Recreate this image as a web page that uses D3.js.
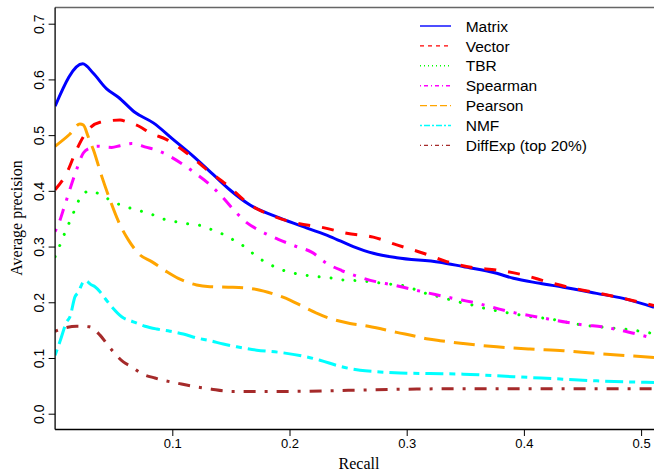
<!DOCTYPE html>
<html>
<head>
<meta charset="utf-8">
<script src="https://cdn.jsdelivr.net/npm/d3@7"></script>
<style>
  html, body { margin: 0; padding: 0; background: #fff; }
  svg { display: block; }
</style>
</head>
<body>
<svg id="chart" width="654" height="472"></svg>
<script>
// ---------------- DATA ----------------
const seriesNames = ["Matrix", "Vector", "TBR", "Spearman", "Pearson", "NMF", "DiffExp (top 20%)"];

const matrixRecall = [0, 0.0236, 0.0326, 0.044, 0.054, 0.068, 0.0838, 0.1009, 0.118, 0.135, 0.149, 0.166, 0.192, 0.215, 0.2346, 0.2544, 0.2715, 0.2915, 0.3284, 0.348, 0.3768, 0.391, 0.4137, 0.4336, 0.462, 0.4848, 0.511];
const matrixPrec   = [0.552, 0.628, 0.611, 0.583, 0.568, 0.541, 0.522, 0.492, 0.462, 0.429, 0.402, 0.375, 0.351, 0.333, 0.318, 0.300, 0.288, 0.280, 0.272, 0.264, 0.252, 0.243, 0.234, 0.227, 0.216, 0.207, 0.191];

const vectorRecall = [0, 0.0099, 0.0184, 0.0241, 0.0298, 0.0383, 0.0554, 0.0611, 0.0724, 0.081, 0.0952, 0.1123, 0.1294, 0.1464, 0.1663, 0.1834, 0.2061, 0.2288, 0.2488, 0.2715, 0.2915, 0.3142, 0.3341, 0.3568, 0.3768, 0.3995, 0.4195, 0.4421, 0.4621, 0.4848, 0.511];
const vectorPrec   = [0.402, 0.432, 0.474, 0.497, 0.513, 0.523, 0.527, 0.524, 0.515, 0.504, 0.492, 0.468, 0.438, 0.411, 0.375, 0.357, 0.342, 0.334, 0.324, 0.317, 0.303, 0.288, 0.273, 0.262, 0.258, 0.249, 0.237, 0.225, 0.217, 0.207, 0.194];

const tbrRecall = [0, 0.0042, 0.0084, 0.0127, 0.017, 0.0218, 0.0298, 0.0398, 0.0497, 0.0596, 0.0705, 0.081, 0.0915, 0.1017, 0.1128, 0.1236, 0.1341, 0.1444, 0.1544, 0.1635, 0.172, 0.1814, 0.1913, 0.2019, 0.2126, 0.2237, 0.2346, 0.2459, 0.2567, 0.2681, 0.2792, 0.3009, 0.3113, 0.3218, 0.3327, 0.3432, 0.354, 0.3648, 0.3759, 0.3867, 0.3975, 0.4086, 0.4195, 0.4302, 0.4416, 0.4743, 0.4854, 0.4962, 0.5076, 0.511];
const tbrPrec   = [0.282, 0.303, 0.325, 0.346, 0.367, 0.389, 0.400, 0.392, 0.380, 0.372, 0.365, 0.359, 0.350, 0.345, 0.341, 0.338, 0.330, 0.321, 0.309, 0.297, 0.282, 0.270, 0.260, 0.253, 0.249, 0.246, 0.244, 0.240, 0.239, 0.237, 0.234, 0.228, 0.219, 0.213, 0.207, 0.201, 0.196, 0.190, 0.185, 0.181, 0.177, 0.173, 0.171, 0.167, 0.162, 0.154, 0.152, 0.149, 0.145, 0.144];

const spearmanRecall = [0, 0.0027, 0.0084, 0.0178, 0.0241, 0.0298, 0.036, 0.0483, 0.0554, 0.0654, 0.0782, 0.0852, 0.0952, 0.1094, 0.1194, 0.1322, 0.1422, 0.155, 0.1635, 0.1734, 0.1904, 0.2047, 0.2189, 0.2317, 0.2445, 0.2573, 0.2736, 0.2886, 0.3028, 0.3199, 0.3327, 0.3469, 0.3625, 0.3768, 0.3924, 0.4052, 0.4208, 0.4365, 0.4521, 0.4664, 0.482, 0.4962, 0.511];
const spearmanPrec   = [0.327, 0.339, 0.375, 0.435, 0.468, 0.477, 0.480, 0.478, 0.481, 0.485, 0.478, 0.474, 0.465, 0.447, 0.432, 0.411, 0.390, 0.360, 0.343, 0.330, 0.313, 0.301, 0.290, 0.270, 0.257, 0.247, 0.237, 0.231, 0.224, 0.216, 0.210, 0.204, 0.197, 0.189, 0.181, 0.176, 0.170, 0.164, 0.159, 0.156, 0.150, 0.143, 0.135];

const pearsonRecall = [0, 0.0127, 0.0212, 0.0241, 0.0283, 0.0326, 0.0398, 0.0468, 0.0554, 0.0625, 0.0724, 0.0824, 0.0952, 0.1051, 0.1208, 0.1322, 0.1478, 0.1606, 0.172, 0.1862, 0.2004, 0.2118, 0.2246, 0.236, 0.2516, 0.2644, 0.2787, 0.2915, 0.3056, 0.3184, 0.3284, 0.3483, 0.3768, 0.4052, 0.4336, 0.4621, 0.4905, 0.511];
const pearsonPrec   = [0.480, 0.502, 0.520, 0.518, 0.497, 0.474, 0.426, 0.384, 0.339, 0.312, 0.285, 0.273, 0.255, 0.243, 0.231, 0.228, 0.227, 0.226, 0.223, 0.215, 0.204, 0.192, 0.179, 0.170, 0.162, 0.158, 0.152, 0.146, 0.140, 0.134, 0.131, 0.126, 0.120, 0.116, 0.113, 0.108, 0.104, 0.101];

const nmfRecall = [0, 0.0042, 0.0099, 0.0127, 0.017, 0.0198, 0.0241, 0.0255, 0.0312, 0.034, 0.0383, 0.0426, 0.0483, 0.0568, 0.0667, 0.0767, 0.0867, 0.098, 0.1094, 0.1208, 0.1322, 0.1435, 0.155, 0.172, 0.1919, 0.2147, 0.226, 0.2431, 0.2602, 0.2772, 0.2943, 0.32, 0.3483, 0.3768, 0.4052, 0.4336, 0.4621, 0.4905, 0.511];
const nmfPrec   = [0.105, 0.130, 0.165, 0.174, 0.210, 0.218, 0.237, 0.239, 0.231, 0.228, 0.219, 0.207, 0.192, 0.174, 0.165, 0.157, 0.152, 0.148, 0.143, 0.136, 0.131, 0.125, 0.120, 0.114, 0.110, 0.102, 0.096, 0.085, 0.078, 0.075, 0.073, 0.072, 0.071, 0.068, 0.065, 0.062, 0.059, 0.057, 0.056];

const diffRecall = [0, 0.0084, 0.0184, 0.0292, 0.0383, 0.044, 0.0497, 0.0582, 0.0654, 0.0739, 0.0852, 0.0923, 0.1038, 0.1151, 0.1236, 0.1336, 0.1435, 0.152, 0.2, 0.25, 0.3, 0.35, 0.4, 0.45, 0.511];
const diffPrec   = [0.148, 0.154, 0.157, 0.156, 0.141, 0.126, 0.111, 0.093, 0.084, 0.072, 0.064, 0.060, 0.055, 0.050, 0.047, 0.044, 0.041, 0.040, 0.040, 0.042, 0.044, 0.045, 0.045, 0.045, 0.045];

const xTicks = [0.1, 0.2, 0.3, 0.4, 0.5];
const yTicks = [0.0, 0.1, 0.2, 0.3, 0.4, 0.5, 0.6, 0.7];

const colors = ["#0000FF", "#FF0000", "#00FF00", "#FF00FF", "#FFA500", "#00FFFF", "#A52A2A"];
// R line types scaled (solid, dashed, dotted, dotdash, longdash, twodash, dotdash)
const dashPlot   = [null, "12,12", "0.01,12", "3,9,12,9", "21,9", "6,6,18,6", "3,9,12,9"];
const capPlot    = ["butt", "butt", "round", "butt", "butt", "butt", "butt"];
const dashLegend = [null, "4,4", "1,3", "1,3,4,3", "7,3", "2,2,6,2", "1,3,4,3"];

const recalls = [matrixRecall, vectorRecall, tbrRecall, spearmanRecall, pearsonRecall, nmfRecall, diffRecall];
const precs   = [matrixPrec, vectorPrec, tbrPrec, spearmanPrec, pearsonPrec, nmfPrec, diffPrec];

// ---------------- CHART ----------------
const svg = d3.select("#chart");
const pLeft = 55.1, pRight = 654, pTop = 7.5, pBottom = 429.5;

const x = d3.scaleLinear().domain([0, 0.5]).range([55.1, 641.1]);
const y = d3.scaleLinear().domain([0, 0.7]).range([413.7, 23.7]);

svg.append("defs").append("clipPath").attr("id", "clip")
  .append("rect").attr("x", pLeft).attr("y", pTop).attr("width", pRight - pLeft).attr("height", pBottom - pTop);

const line = d3.line().x(d => x(d[0])).y(d => y(d[1])).curve(d3.curveMonotoneX);

const g = svg.append("g").attr("clip-path", "url(#clip)");
seriesNames.forEach((name, i) => {
  const pts = recalls[i].map((r, k) => [r, precs[i][k]]);
  const p = g.append("path")
    .datum(pts)
    .attr("d", line)
    .attr("fill", "none")
    .attr("stroke", colors[i])
    .attr("stroke-width", 3)
    .attr("stroke-linecap", capPlot[i])
    .attr("stroke-linejoin", "round");
  if (dashPlot[i]) p.attr("stroke-dasharray", dashPlot[i]);
});

// frame
svg.append("line").attr("x1", pLeft).attr("x2", pRight).attr("y1", pTop).attr("y2", pTop)
  .attr("stroke", "#666").attr("stroke-width", 1.5);
svg.append("line").attr("x1", pLeft).attr("x2", pLeft).attr("y1", pTop).attr("y2", pBottom)
  .attr("stroke", "#000").attr("stroke-width", 1.3);
svg.append("line").attr("x1", pLeft).attr("x2", pRight).attr("y1", pBottom).attr("y2", pBottom)
  .attr("stroke", "#000").attr("stroke-width", 1.3);

// y axis
const yAxis = d3.axisLeft(y).tickValues(yTicks).tickSize(6.5).tickFormat(d3.format(".1f"));
const ya = svg.append("g").attr("transform", `translate(${pLeft},0)`).call(yAxis);
ya.select(".domain").remove();
ya.selectAll(".tick line").attr("stroke", "#000").attr("stroke-width", 1);
ya.selectAll(".tick text")
  .attr("font-family", "'Liberation Sans', Arial, sans-serif")
  .attr("font-size", 14)
  .attr("fill", "#000")
  .attr("text-anchor", "middle")
  .attr("dy", null)
  .attr("x", null)
  .attr("transform", "translate(-11,0) rotate(-90)")
  .attr("y", 0);

// x axis
const xAxis = d3.axisBottom(x).tickValues(xTicks).tickSize(6.5).tickFormat(d3.format(".1f"));
const xa = svg.append("g").attr("transform", `translate(0,${pBottom})`).call(xAxis);
xa.select(".domain").remove();
xa.selectAll(".tick line").attr("stroke", "#000").attr("stroke-width", 1);
xa.selectAll(".tick text")
  .attr("font-family", "'Liberation Sans', Arial, sans-serif")
  .attr("font-size", 13)
  .attr("fill", "#000")
  .attr("dy", null)
  .attr("y", 18.3);

// axis titles
svg.append("text").attr("x", 359).attr("y", 469)
  .attr("text-anchor", "middle")
  .attr("font-family", "'Liberation Serif', 'Times New Roman', serif")
  .attr("font-size", 16).attr("fill", "#000").text("Recall");
svg.append("text")
  .attr("transform", "translate(21.5,218) rotate(-90)")
  .attr("text-anchor", "middle")
  .attr("font-family", "'Liberation Serif', 'Times New Roman', serif")
  .attr("font-size", 16).attr("fill", "#000").text("Average precision");

// legend
const lg = svg.append("g");
seriesNames.forEach((name, i) => {
  const yy = 26 + 19.9 * i;
  const l = lg.append("line").attr("x1", 420).attr("x2", 451).attr("y1", yy).attr("y2", yy)
    .attr("stroke", colors[i]).attr("stroke-width", 1.4);
  if (dashLegend[i]) l.attr("stroke-dasharray", dashLegend[i]);
  lg.append("text").attr("x", 465.7).attr("y", yy + 5.6)
    .attr("font-family", "'Liberation Sans', Arial, sans-serif")
    .attr("font-size", 15.5).attr("fill", "#000").text(name);
});
</script>
</body>
</html>
